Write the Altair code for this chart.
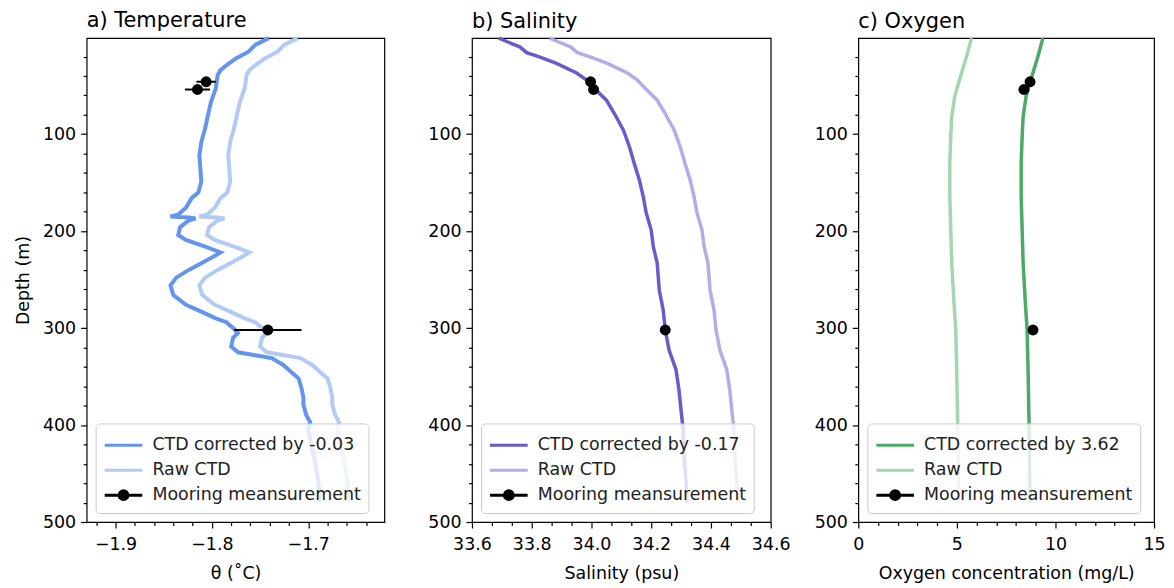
import altair as alt
import pandas as pd

FONT = "DejaVu Sans"

# ---------------- data ----------------
# a) Temperature (corrected CTD profile); raw = corrected - correction
depth_T = [1, 8, 15, 22, 29, 34, 39, 46, 53, 67, 80, 94, 108, 122, 135, 149, 160,
           166, 176, 183, 185, 186, 187, 189, 196, 204, 209, 216, 222, 225, 232,
           240, 248, 256, 266, 276, 283, 290, 294, 300, 305, 310, 319, 325, 328,
           331, 338, 345, 352, 362, 372, 379, 390, 397, 404, 421, 438, 455, 472, 480]
temp_corr = [-1.741, -1.755, -1.762, -1.775, -1.785, -1.791, -1.794, -1.795, -1.796,
             -1.801, -1.804, -1.807, -1.811, -1.813, -1.812, -1.811, -1.814, -1.821,
             -1.827, -1.835, -1.843, -1.824, -1.817, -1.824, -1.833, -1.835, -1.827,
             -1.807, -1.791, -1.796, -1.809, -1.824, -1.837, -1.843, -1.840, -1.827,
             -1.811, -1.796, -1.785, -1.778, -1.773, -1.778, -1.780, -1.773, -1.755,
             -1.738, -1.726, -1.718, -1.710, -1.707, -1.705, -1.705, -1.702, -1.698,
             -1.700, -1.697, -1.693, -1.690, -1.688, -1.689]
temp_correction = -0.03

# b) Salinity
depth_S = [1, 5, 10, 16, 20, 27, 37, 44, 55, 65, 79, 96, 113, 130, 147, 164, 181,
           199, 216, 233, 261, 281, 302, 323, 343, 364, 385, 405, 433, 460, 480]
sal_corr = [33.690, 33.720, 33.760, 33.783, 33.823, 33.883, 33.950, 33.983, 34.017,
            34.050, 34.077, 34.107, 34.127, 34.143, 34.160, 34.173, 34.183, 34.200,
            34.207, 34.220, 34.227, 34.240, 34.247, 34.260, 34.283, 34.293, 34.300,
            34.307, 34.310, 34.317, 34.320]
sal_correction = -0.17

# c) Oxygen
depth_O = [1, 20, 40, 61, 82, 102, 130, 164, 199, 233, 270, 302, 343, 398, 480]
oxy_corr = [9.36, 9.11, 8.81, 8.51, 8.36, 8.31, 8.26, 8.26, 8.31, 8.36, 8.46, 8.56,
            8.61, 8.66, 8.71]
oxy_correction = 3.62

# Mooring measurements
moor_depth = [46, 54, 302]
moor_temp = [-1.806, -1.815, -1.742]
moor_temp_err = [0.010, 0.013, 0.035]
moor_sal = [33.997, 34.007, 34.247]
moor_oxy = [8.71, 8.40, 8.86]

# axis ticks
temp_ticks = [-1.92, -1.90, -1.88, -1.86, -1.84, -1.82, -1.80, -1.78, -1.76, -1.74,
              -1.72, -1.70, -1.68, -1.66, -1.64]
sal_ticks = [33.6, 33.6667, 33.7333, 33.8, 33.8667, 33.9333, 34.0, 34.0667, 34.1333,
             34.2, 34.2667, 34.3333, 34.4, 34.4667, 34.5333, 34.6]
oxy_ticks = list(range(0, 16))
depth_ticks = list(range(20, 501, 20))

LEG_LINE = "M-1.4,0H1.4"
LEG_MOOR = "M-1.4,0H1.4M0.33,0A0.33,0.33,0,1,1,-0.33,0A0.33,0.33,0,1,1,0.33,0Z"


def major_test(step):
    return f"abs(datum.value/{step} - round(datum.value/{step})) < 0.0001"


def panel(title, xtitle, depth, corr, correction, moor_vals, moor_err, colors,
          xdomain, xticks, xstep, fmt, ytitle, width, line_w):
    corr_label = f"CTD corrected by {correction:g}"
    labels = [corr_label, "Raw CTD", "Mooring meansurement"]
    df = pd.DataFrame({"depth": depth, "corr": corr,
                       "raw": [c - correction for c in corr]})

    xs = alt.Scale(domain=xdomain, nice=False, zero=False)
    ys = alt.Scale(domain=[1, 500], reverse=True, nice=False, zero=False)
    xt = major_test(xstep)
    yt = major_test(100)
    xaxis = alt.Axis(title=xtitle, values=xticks, format=fmt,
                     labelExpr=f"({xt}) ? datum.label : ''",
                     tickSize={"condition": {"test": xt, "value": 6}, "value": 3.5},
                     labelOverlap=False, labelFlush=False)
    yaxis = alt.Axis(title=ytitle, values=depth_ticks, format="d",
                     labelExpr=f"({yt}) ? datum.label : ''",
                     tickSize={"condition": {"test": yt, "value": 6}, "value": 3.5},
                     labelOverlap=False, labelFlush=False)

    def X(f):
        return alt.X(f, type="quantitative", scale=xs, axis=xaxis)

    def Y():
        return alt.Y("depth:Q", scale=ys, axis=yaxis)

    raw_line = alt.Chart(df).mark_line(color=colors[1], strokeWidth=line_w).encode(
        x=X("raw"), y=Y(), order="depth:Q")
    corr_line = alt.Chart(df).mark_line(color=colors[0], strokeWidth=line_w).encode(
        x=X("corr"), y=Y(), order="depth:Q")

    moor = pd.DataFrame({"depth": moor_depth, "val": moor_vals})
    layers = [raw_line, corr_line]
    if moor_err is not None:
        moor["lo"] = [v - e for v, e in zip(moor_vals, moor_err)]
        moor["hi"] = [v + e for v, e in zip(moor_vals, moor_err)]
        layers.append(alt.Chart(moor).mark_rule(color="black", strokeWidth=2).encode(
            x=X("lo"), x2="hi:Q", y=Y()))
    layers.append(alt.Chart(moor).mark_circle(color="black", size=120, opacity=1).encode(
        x=X("val"), y=Y()))

    leg = alt.Legend(title=None, orient="bottom-left", offset=9, padding=7,
                     symbolSize=729, symbolStrokeWidth=3, symbolOffset=6,
                     labelOffset=14, rowPadding=1, labelFont=FONT,
                     labelFontSize=17.5, labelColor="#222", labelLimit=400,
                     fillColor="rgba(255,255,255,0.8)", strokeColor="#cccccc",
                     cornerRadius=4)
    ldf = pd.DataFrame({"series": labels})
    legend_layer = alt.Chart(ldf).transform_filter("false").mark_point(
        filled=True, strokeWidth=3, opacity=1).encode(
        fill=alt.Fill("series:N", scale=alt.Scale(domain=labels, range=[colors[0], colors[1], "black"]), legend=leg),
        stroke=alt.Stroke("series:N", scale=alt.Scale(domain=labels, range=[colors[0], colors[1], "black"]), legend=leg),
        shape=alt.Shape("series:N", scale=alt.Scale(domain=labels, range=[LEG_LINE, LEG_LINE, LEG_MOOR]), legend=leg),
    )
    layers.append(legend_layer)

    return alt.layer(*layers).properties(
        width=width, height=486,
        title=alt.TitleParams(title, anchor="start", frame="group", fontSize=21,
                              font=FONT, fontWeight="normal", color="black", offset=-1),
    )


pa = panel("a) Temperature", "θ (˚C)", depth_T, temp_corr, temp_correction,
           moor_temp, moor_temp_err, ["#6495ED", "#b1caf6"],
           [-1.93, -1.621], temp_ticks, 0.1, ".1f", "Depth (m)", 299, 4)
pb = panel("b) Salinity", "Salinity (psu)", depth_S, sal_corr, sal_correction,
           moor_sal, None, ["#6A5ACD", "#b4ace6"],
           [33.6, 34.6], sal_ticks, 0.2, ".1f", None, 300, 3.5)
pc = panel("c) Oxygen", "Oxygen concentration (mg/L)", depth_O, oxy_corr, oxy_correction,
           moor_oxy, None, ["#4aaa66", "#a3d6b1"],
           [0, 15], oxy_ticks, 5, "d", None, 297, 3.5)

indep = dict(x="independent", y="independent", fill="independent",
             stroke="independent", shape="independent")

chart = alt.hconcat(pa, pb, pc, spacing=88, bounds="flush").resolve_scale(**indep).resolve_legend(
    fill="independent", stroke="independent", shape="independent"
).properties(
    padding={"left": 5, "top": 0, "right": 0, "bottom": 0}
).configure(font=FONT).configure_view(
    stroke="black", strokeWidth=1.2
).configure_axis(
    domain=False, grid=False, labelFont=FONT, labelFontSize=17.5, labelColor="black",
    titleFont=FONT, titleFontSize=17.5, titleFontWeight="normal", titleColor="black",
    tickColor="black", tickWidth=1.2
).configure_axisX(titlePadding=11, labelPadding=8).configure_axisY(titlePadding=10, labelPadding=5)

chart.save("out.html", embed_options={"renderer": "svg", "actions": False})
